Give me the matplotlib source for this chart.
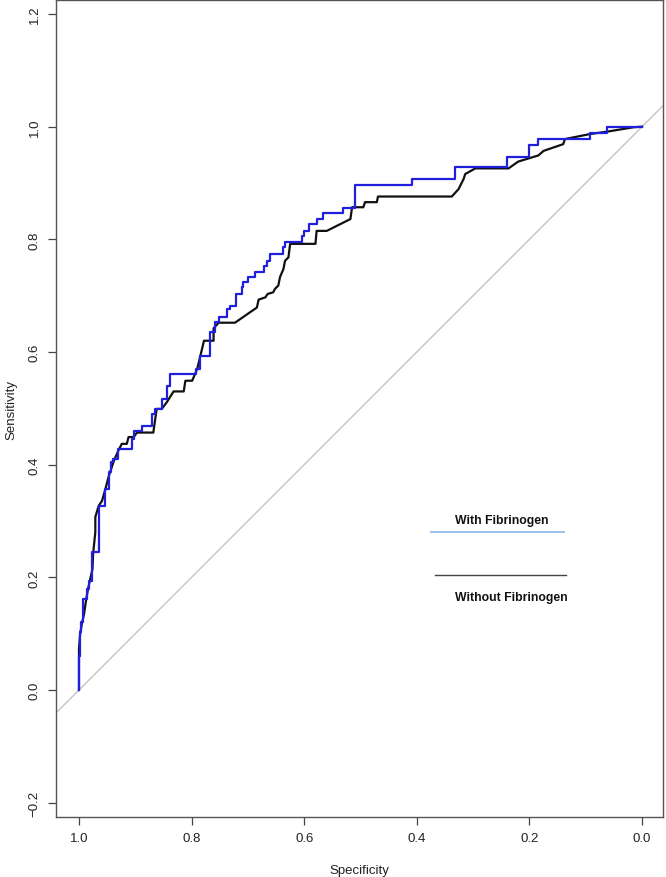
import matplotlib
matplotlib.use("Agg")
import matplotlib.pyplot as plt

plt.rcParams['font.family'] = ['Liberation Sans', 'DejaVu Sans']

# ROC curve with fibrinogen (blue)
with_spec = [1.0, 0.999, 0.999, 0.996, 0.992, 0.986, 0.982, 0.976, 0.975, 0.965,
             0.965, 0.963, 0.953, 0.953, 0.947, 0.947, 0.944, 0.939, 0.930, 0.927,
             0.906, 0.906, 0.903, 0.888, 0.870, 0.865, 0.853, 0.844, 0.838, 0.826,
             0.793, 0.790, 0.785, 0.785, 0.767, 0.758, 0.752, 0.737, 0.731, 0.722,
             0.711, 0.708, 0.699, 0.687, 0.672, 0.666, 0.660, 0.652, 0.637, 0.634,
             0.625, 0.604, 0.601, 0.592, 0.577, 0.566, 0.562, 0.531, 0.531, 0.509,
             0.509, 0.499, 0.409, 0.409, 0.333, 0.333, 0.239, 0.239, 0.236, 0.200,
             0.200, 0.185, 0.171, 0.092, 0.092, 0.063, 0.063, 0.0]
with_sens = [0.0, 0.061, 0.099, 0.103, 0.121, 0.162, 0.179, 0.194, 0.245, 0.245,
             0.309, 0.327, 0.327, 0.357, 0.357, 0.372, 0.387, 0.404, 0.410, 0.428,
             0.428, 0.446, 0.446, 0.460, 0.468, 0.490, 0.499, 0.517, 0.540, 0.561,
             0.561, 0.570, 0.570, 0.591, 0.593, 0.636, 0.653, 0.662, 0.676, 0.682,
             0.703, 0.715, 0.724, 0.733, 0.742, 0.753, 0.762, 0.774, 0.774, 0.786,
             0.795, 0.795, 0.806, 0.815, 0.827, 0.836, 0.846, 0.846, 0.856, 0.856,
             0.886, 0.896, 0.896, 0.907, 0.907, 0.928, 0.928, 0.937, 0.947, 0.947,
             0.957, 0.968, 0.978, 0.978, 0.989, 0.989, 0.999, 1.0]

# ROC curve without fibrinogen (black)
without_spec = [1.0, 1.0, 0.998, 0.995, 0.991, 0.987, 0.984, 0.980, 0.976, 0.975,
                0.971, 0.971, 0.965, 0.959, 0.953, 0.947, 0.938, 0.930, 0.924, 0.915,
                0.912, 0.903, 0.897, 0.868, 0.862, 0.853, 0.844, 0.832, 0.814, 0.811,
                0.799, 0.790, 0.778, 0.761, 0.761, 0.752, 0.723, 0.684, 0.681, 0.669,
                0.665, 0.655, 0.652, 0.646, 0.643, 0.637, 0.634, 0.628, 0.625, 0.580,
                0.578, 0.560, 0.518, 0.515, 0.495, 0.492, 0.471, 0.469, 0.338, 0.326,
                0.317, 0.314, 0.296, 0.237, 0.220, 0.184, 0.175, 0.140, 0.137, 0.092,
                0.063, 0.015, 0.0]
without_sens = [0.0, 0.073, 0.099, 0.117, 0.135, 0.162, 0.179, 0.197, 0.215, 0.241,
                0.280, 0.307, 0.327, 0.336, 0.357, 0.380, 0.407, 0.425, 0.437, 0.437,
                0.449, 0.449, 0.457, 0.457, 0.499, 0.499, 0.511, 0.530, 0.530, 0.549,
                0.549, 0.570, 0.620, 0.620, 0.642, 0.652, 0.652, 0.679, 0.693, 0.697,
                0.703, 0.706, 0.712, 0.718, 0.733, 0.747, 0.762, 0.768, 0.792, 0.792,
                0.815, 0.815, 0.836, 0.857, 0.857, 0.866, 0.866, 0.876, 0.876, 0.889,
                0.907, 0.916, 0.926, 0.926, 0.938, 0.949, 0.957, 0.969, 0.978, 0.987,
                0.991, 0.999, 1.0]

x_ticks = [1.0, 0.8, 0.6, 0.4, 0.2, 0.0]
y_ticks = [-0.2, 0.0, 0.2, 0.4, 0.6, 0.8, 1.0, 1.2]
label_with = "With Fibrinogen"
label_without = "Without Fibrinogen"

fig = plt.figure(figsize=(6.66, 8.78), dpi=100)
ax = fig.add_axes([0.0841, 0.0683, 0.9119, 0.930])

ax.axline((1, 0), (0, 1), color="#c4c4c4", lw=1.0, zorder=1)
ax.plot(without_spec, without_sens, color="#111111", lw=1.6, zorder=2)
ax.plot(with_spec, with_sens, color="#1f1fdd", lw=1.6, zorder=3,
        drawstyle="steps-pre")

ax.set_xlim(1.0408, -0.0378)
ax.set_ylim(-0.2255, 1.224)

ax.set_xticks(x_ticks)
ax.set_xticklabels([f"{v:.1f}" for v in x_ticks])
ax.set_yticks(y_ticks)
ax.set_yticklabels([f"{v:.1f}".replace("-", "\u2212") for v in y_ticks],
                   rotation=90, va="center")
ax.tick_params(direction="out", length=6, width=0.9, colors="#444444",
               labelsize=9.5, labelcolor="#222222", pad=5)
for sp in ax.spines.values():
    sp.set_color("#555555")
    sp.set_linewidth(1.0)

ax.set_xlabel("Specificity", fontsize=9.5, color="#222222", labelpad=14)
ax.set_ylabel("Sensitivity", fontsize=9.5, color="#222222", labelpad=8)

# custom legend
ax.plot([0.3746, 0.1385], [0.281, 0.281], color="#9dbfe8", lw=1.4)
ax.plot([0.3675, 0.1349], [0.204, 0.204], color="#444444", lw=1.0)
ax.text(0.2494, 0.302, label_with, fontsize=8.8, fontweight="bold",
        ha="center", va="center", color="#111111")
ax.text(0.2326, 0.165, label_without, fontsize=8.8, fontweight="bold",
        ha="center", va="center", color="#111111")

fig.savefig("out.png", dpi=100)
